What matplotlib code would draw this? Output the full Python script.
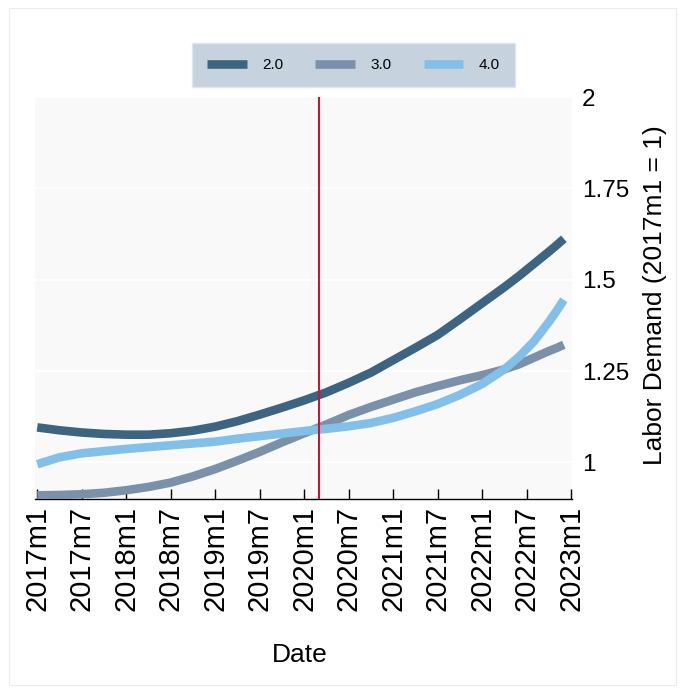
import matplotlib
matplotlib.use("Agg")
import matplotlib.pyplot as plt
from matplotlib.lines import Line2D
from matplotlib.patches import Rectangle

plt.rcParams['font.family'] = ['Liberation Sans', 'DejaVu Sans']

# months since 2017m1 (readings taken off the chart)
months = [0, 3, 6, 9, 12, 15, 18, 21, 24, 27, 30, 33, 36, 39, 42, 45,
          48, 51, 54, 57, 60, 63, 65, 67, 69, 70, 71]

demand_20 = [1.096, 1.088, 1.082, 1.078, 1.076, 1.076, 1.080, 1.087, 1.098,
             1.113, 1.131, 1.150, 1.170, 1.192, 1.218, 1.246, 1.280, 1.314,
             1.349, 1.392, 1.436, 1.480, 1.511, 1.544, 1.577, 1.594, 1.612]
demand_30 = [0.910, 0.911, 0.913, 0.917, 0.924, 0.933, 0.945, 0.962, 0.982,
             1.005, 1.029, 1.055, 1.080, 1.104, 1.130, 1.152, 1.172, 1.192,
             1.209, 1.225, 1.239, 1.255, 1.269, 1.287, 1.305, 1.313, 1.322]
demand_40 = [0.995, 1.014, 1.025, 1.031, 1.037, 1.042, 1.047, 1.052, 1.057,
             1.065, 1.072, 1.079, 1.086, 1.092, 1.099, 1.108, 1.122, 1.140,
             1.160, 1.185, 1.215, 1.255, 1.290, 1.332, 1.385, 1.414, 1.445]

series_labels = ["2.0", "3.0", "4.0"]
series_colors = ["#3d6480", "#7a91a9", "#82c0ea"]

tick_months = list(range(0, 73, 6))
tick_labels = ["2017m1", "2017m7", "2018m1", "2018m7", "2019m1", "2019m7",
               "2020m1", "2020m7", "2021m1", "2021m7", "2022m1", "2022m7",
               "2023m1"]
covid_month = 38  # 2020m3

y_ticks = [1, 1.25, 1.5, 1.75, 2]
y_tick_labels = ["1", "1.25", "1.5", "1.75", "2"]

W, H = 684, 693
fig = plt.figure(figsize=(W / 100, H / 100), dpi=100)
fig.patch.set_facecolor("white")
fig.patches.append(Rectangle((9 / W, 8 / H), 667 / W, 677 / H, transform=fig.transFigure,
                             fill=False, edgecolor="#ececec", lw=0.8))

ax = fig.add_axes([35 / W, 1 - 499 / H, 537 / W, 402 / H])
ax.set_facecolor("#f9f9fa")

for vals, lab, col in zip([demand_20, demand_30, demand_40], series_labels, series_colors):
    ax.plot(months, vals, color=col, lw=6.2, solid_capstyle="butt",
            solid_joinstyle="round", label=lab, zorder=3)

ax.axvline(covid_month, color="#c8143c", lw=1.5, zorder=4)

ax.set_xlim(-0.3, 72.1)
ax.set_ylim(0.9, 2.0)

ax.set_yticks(y_ticks)
ax.set_yticklabels(y_tick_labels)
ax.yaxis.tick_right()
ax.tick_params(axis="y", length=0, pad=7, labelsize=17.5)
ax.yaxis.grid(True, color="white", lw=1.3, zorder=0)
ax.set_axisbelow(True)

ax.set_xticks(tick_months)
ax.set_xticklabels(tick_labels, rotation=90)
ax.tick_params(axis="x", direction="in", length=7, width=1, color="black",
               labelsize=21, pad=5)

for s in ["top", "left", "right"]:
    ax.spines[s].set_visible(False)
ax.spines["bottom"].set_color("black")
ax.spines["bottom"].set_linewidth(1)

fig.text(655 / W, 1 - 295 / H, "Labor Demand (2017m1 = 1)", rotation=90,
         ha="center", va="center", fontsize=19)
fig.text(300 / W, 1 - 655 / H, "Date", ha="center", va="center", fontsize=19)

handles = [Line2D([0], [0], color=c, lw=6.2, solid_capstyle="butt") for c in series_colors]
leg = fig.legend(handles, series_labels, ncol=3, loc="center",
                 bbox_to_anchor=(353.5 / W, 1 - 65 / H), fontsize=11,
                 handlelength=2.6, handletextpad=1.0, columnspacing=2.1,
                 borderpad=1.0, frameon=True, fancybox=False)
leg.get_frame().set_facecolor("#c6d3df")
leg.get_frame().set_edgecolor("#dfe6ec")
leg.get_frame().set_alpha(1)

fig.savefig("out.png", dpi=100)
